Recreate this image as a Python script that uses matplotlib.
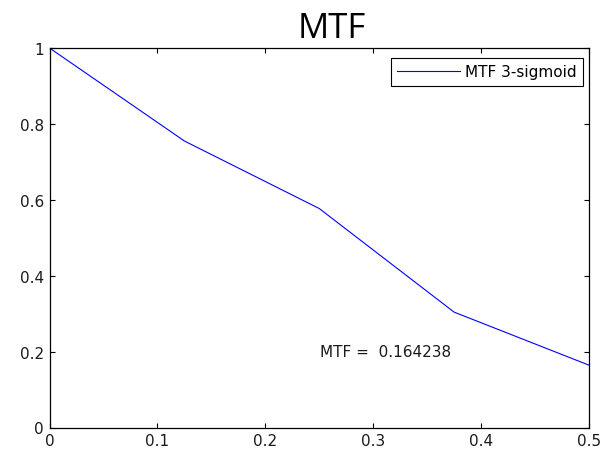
import matplotlib
matplotlib.use("Agg")
import matplotlib.pyplot as plt

# MTF curve sampled at the bin centres of the frequency axis (cycles/pixel)
freq = [0.0, 0.125, 0.25, 0.375, 0.5]
mtf = [1.0, 0.755, 0.577, 0.304, 0.164238]
series_label = "MTF 3-sigmoid"
mtf_at_nyquist = 0.164238

xticks = [0, 0.1, 0.2, 0.3, 0.4, 0.5]
xtick_labels = ["0", "0.1", "0.2", "0.3", "0.4", "0.5"]
yticks = [0, 0.2, 0.4, 0.6, 0.8, 1.0]
ytick_labels = ["0", "0.2", "0.4", "0.6", "0.8", "1"]

W, H, DPI = 602, 452, 100
fig = plt.figure(figsize=(W / DPI, H / DPI), dpi=DPI, facecolor="white")
ax = fig.add_axes([49.5 / W, 1 - 428.5 / H, (589 - 49.5) / W, (428.5 - 49) / H])

tick_font = {"family": ["DejaVu Sans"], "size": 11}

ax.plot(freq, mtf, color=(0, 0, 1), linewidth=0.8, label=series_label)
ax.set_xlim(0, 0.5)
ax.set_ylim(0, 1)
ax.set_xticks(xticks)
ax.set_xticklabels(xtick_labels, **tick_font, color="#1a1a1a")
ax.set_yticks(yticks)
ax.set_yticklabels(ytick_labels, **tick_font, color="#1a1a1a")
ax.tick_params(direction="in", length=3.6, width=0.8, top=True, right=True,
               pad=4.0)
for s in ax.spines.values():
    s.set_linewidth(0.9)
    s.set_color("black")

ax.text(0.251, 0.2, f"MTF =  {mtf_at_nyquist:.6f}", ha="left", va="center",
        **tick_font, color="#1a1a1a")

leg = ax.legend(loc="upper right", bbox_to_anchor=(583 / W, 1 - 59 / H),
                bbox_transform=fig.transFigure, borderaxespad=0,
                prop={"family": "DejaVu Sans", "size": 11},
                handlelength=4.1, handletextpad=0.35, borderpad=0.42,
                fancybox=False, framealpha=1, edgecolor="black")
leg.get_frame().set_linewidth(0.8)

fig.text(332 / W, 1 - 37.7 / H, "MTF", ha="center", va="baseline",
         family=["Open Sans", "DejaVu Sans"], fontsize=25, color="black")

fig.savefig("out.png", dpi=DPI, facecolor="white")
